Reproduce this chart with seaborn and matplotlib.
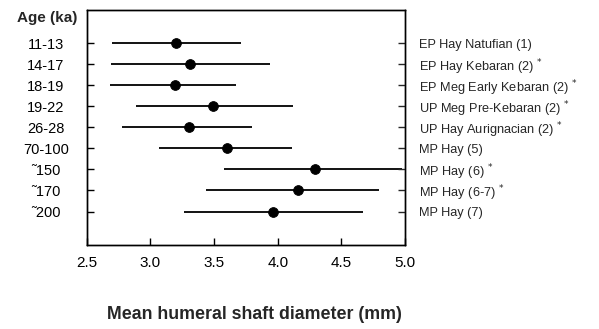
import matplotlib
matplotlib.use("Agg")
import matplotlib.pyplot as plt
import seaborn as sns
import pandas as pd

ages = ["11-13", "14-17", "18-19", "19-22", "26-28", "70-100", "˜150", "˜170", "˜200"]
groups = [
	"EP Hay Natufian (1)",
	"EP Hay Kebaran (2) $^{*}$",
	"EP Meg Early Kebaran (2) $^{*}$",
	"UP Meg Pre-Kebaran (2) $^{*}$",
	"UP Hay Aurignacian (2) $^{*}$",
	"MP Hay (5)",
	"MP Hay (6) $^{*}$",
	"MP Hay (6-7) $^{*}$",
	"MP Hay (7)",
]
means = [3.20, 3.31, 3.19, 3.49, 3.30, 3.60, 4.29, 4.16, 3.96]
lows = [2.70, 2.69, 2.68, 2.885, 2.775, 3.07, 3.58, 3.44, 3.26]
highs = [3.71, 3.94, 3.67, 4.12, 3.80, 4.11, 4.98, 4.80, 4.67]

df = pd.DataFrame({"row": range(len(ages)), "mean": means, "low": lows, "high": highs})

sns.set_style("ticks")
plt.rcParams["font.family"] = ["Liberation Sans", "DejaVu Sans"]

fig = plt.figure(figsize=(5.99, 3.29), dpi=100)
ax = fig.add_axes([0.145, 0.255, 0.531, 0.715])

ax.hlines(df["row"], df["low"], df["high"], color="black", lw=1.3)
sns.scatterplot(data=df, x="mean", y="row", ax=ax, color="black", s=50, edgecolor="black", zorder=3)

ax.set_xlim(2.5, 5.0)
ax.set_ylim(9.6, -1.6)
ax.set_xticks([2.5, 3.0, 3.5, 4.0, 4.5, 5.0])
ax.set_xticklabels(["2.5", "3.0", "3.5", "4.0", "4.5", "5.0"], fontsize=11)
ax.set_yticks(df["row"])
ax.set_yticklabels(ages, fontsize=10.5, ha="center")
ax.tick_params(axis="both", direction="in", length=5, width=1, colors="black")
ax.tick_params(axis="x", pad=8)
ax.tick_params(axis="y", pad=29.5)

ax2 = ax.twinx()
ax2.set_ylim(ax.get_ylim())
ax2.set_yticks(df["row"])
ax2.set_yticklabels(groups, fontsize=9.2)
ax2.tick_params(axis="y", direction="in", length=5, width=1, pad=10)

for a in (ax, ax2):
	for s in a.spines.values():
		s.set_color("black")
		s.set_linewidth(1)

ax.set_xlabel("")
ax.set_ylabel("")
fig.text(0.079, 0.945, "Age (ka)", fontsize=11, weight="bold", ha="center", va="center")
fig.text(0.424, 0.043, "Mean humeral shaft diameter (mm)", fontsize=12.8, weight="bold", ha="center", va="center")

fig.savefig("out.png", dpi=100)
